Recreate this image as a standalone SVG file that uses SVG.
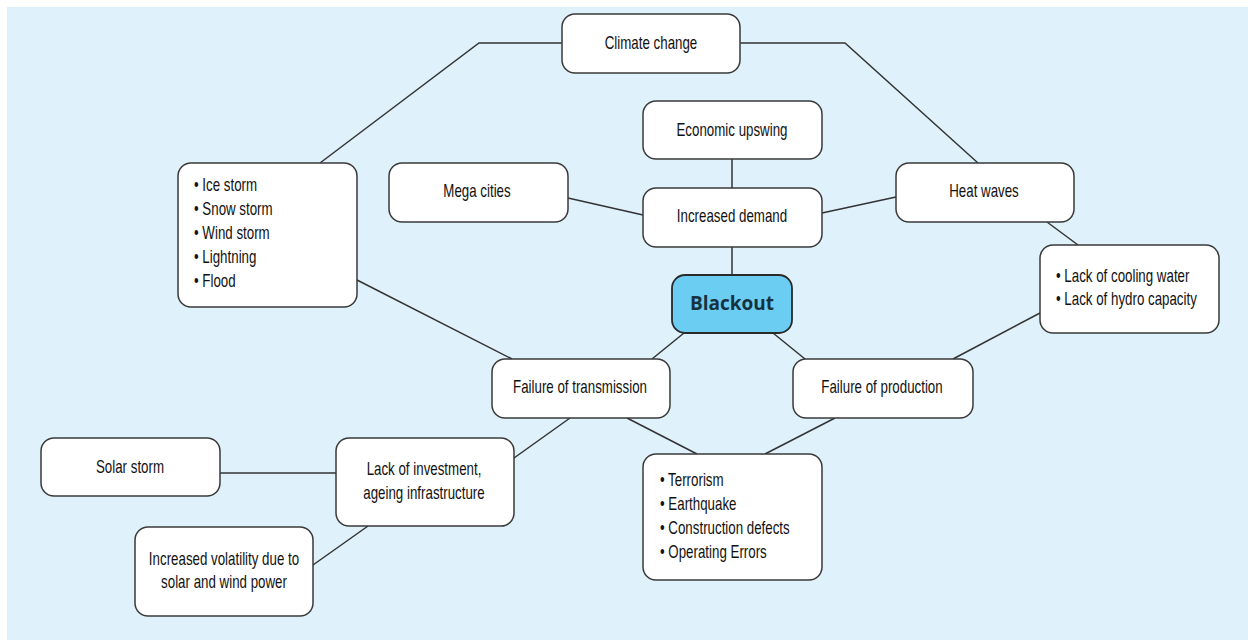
<svg xmlns="http://www.w3.org/2000/svg" width="1248" height="640" viewBox="0 0 1248 640">
<style>
.bg{fill:#dff1fb}
.box{fill:#ffffff;stroke:#3a3a3a;stroke-width:1.5}
.hub{fill:#6ccdf2;stroke:#2a2a2a;stroke-width:1.8}
.lbl{font-family:"Liberation Sans",Arial,sans-serif;font-size:18px;fill:#111}
.c{text-anchor:middle}
.hubt{font-family:"Open Sans","Noto Sans",sans-serif;font-weight:bold;font-size:19px;fill:#16323f;text-anchor:middle}
.con{fill:none;stroke:#333;stroke-width:1.5}
</style>
<rect class="bg" x="7" y="7" width="1241" height="633"/>
<g id="connectors">
<polyline class="con" points="562,43 479,43 320,163"/>
<polyline class="con" points="740,43 845,43 978,163"/>
<line class="con" x1="732" y1="159" x2="732" y2="188"/>
<line class="con" x1="732" y1="247" x2="732" y2="275"/>
<line class="con" x1="568" y1="198" x2="643" y2="215"/>
<line class="con" x1="822" y1="213" x2="896" y2="197"/>
<line class="con" x1="1047" y1="222" x2="1078" y2="245"/>
<line class="con" x1="1040" y1="313" x2="953" y2="359"/>
<line class="con" x1="684" y1="333" x2="652" y2="359"/>
<line class="con" x1="773" y1="333" x2="805" y2="359"/>
<line class="con" x1="357" y1="280" x2="512" y2="359"/>
<line class="con" x1="570" y1="418" x2="514" y2="458"/>
<line class="con" x1="627" y1="418" x2="697" y2="454"/>
<line class="con" x1="835" y1="418" x2="765" y2="454"/>
<line class="con" x1="220" y1="473" x2="336" y2="473"/>
<line class="con" x1="368" y1="526" x2="313" y2="565"/>
</g>
<g id="climate-change"><rect class="box" x="562" y="14" width="178" height="59" rx="13"/><text class="lbl c" x="651" y="49" transform="matrix(0.74 0 0 1 169.26 0)">Climate change</text></g>
<g id="economic-upswing"><rect class="box" x="643" y="101" width="179" height="58" rx="13"/><text class="lbl c" x="732" y="136" transform="matrix(0.74 0 0 1 190.32 0)">Economic upswing</text></g>
<g id="mega-cities"><rect class="box" x="389" y="163" width="179" height="59" rx="13"/><text class="lbl c" x="477" y="197" transform="matrix(0.74 0 0 1 124.02 0)">Mega cities</text></g>
<g id="increased-demand"><rect class="box" x="643" y="188" width="179" height="59" rx="13"/><text class="lbl c" x="732" y="222" transform="matrix(0.74 0 0 1 190.32 0)">Increased demand</text></g>
<g id="blackout"><rect class="hub" x="672" y="275" width="120" height="58" rx="13"/><text class="hubt" x="732" y="310">Blackout</text></g>
<g id="heat-waves"><rect class="box" x="896" y="163" width="178" height="59" rx="13"/><text class="lbl c" x="984" y="197" transform="matrix(0.74 0 0 1 255.84 0)">Heat waves</text></g>
<g id="water-hydro"><rect class="box" x="1040" y="245" width="179" height="88" rx="13"/>
<text class="lbl" x="1056" y="282" transform="matrix(0.74 0 0 1 274.56 0)">• Lack of cooling water</text>
<text class="lbl" x="1056" y="305" transform="matrix(0.74 0 0 1 274.56 0)">• Lack of hydro capacity</text></g>
<g id="storms"><rect class="box" x="178" y="163" width="179" height="144" rx="13"/>
<text class="lbl" x="194" y="191" transform="matrix(0.74 0 0 1 50.44 0)">• Ice storm</text>
<text class="lbl" x="194" y="215" transform="matrix(0.74 0 0 1 50.44 0)">• Snow storm</text>
<text class="lbl" x="194" y="239" transform="matrix(0.74 0 0 1 50.44 0)">• Wind storm</text>
<text class="lbl" x="194" y="263" transform="matrix(0.74 0 0 1 50.44 0)">• Lightning</text>
<text class="lbl" x="194" y="287" transform="matrix(0.74 0 0 1 50.44 0)">• Flood</text></g>
<g id="failure-transmission"><rect class="box" x="492" y="359" width="178" height="59" rx="13"/><text class="lbl c" x="580" y="393" transform="matrix(0.74 0 0 1 150.8 0)">Failure of transmission</text></g>
<g id="failure-production"><rect class="box" x="793" y="359" width="180" height="59" rx="13"/><text class="lbl c" x="882" y="393" transform="matrix(0.74 0 0 1 229.32 0)">Failure of production</text></g>
<g id="hazards"><rect class="box" x="643" y="454" width="179" height="126" rx="13"/>
<text class="lbl" x="660" y="486" transform="matrix(0.74 0 0 1 171.6 0)">• Terrorism</text>
<text class="lbl" x="660" y="510" transform="matrix(0.74 0 0 1 171.6 0)">• Earthquake</text>
<text class="lbl" x="660" y="534" transform="matrix(0.74 0 0 1 171.6 0)">• Construction defects</text>
<text class="lbl" x="660" y="558" transform="matrix(0.74 0 0 1 171.6 0)">• Operating Errors</text></g>
<g id="lack-investment"><rect class="box" x="336" y="438" width="178" height="88" rx="13"/>
<text class="lbl c" x="424" y="475" transform="matrix(0.74 0 0 1 110.24 0)">Lack of investment,</text>
<text class="lbl c" x="424" y="499" transform="matrix(0.74 0 0 1 110.24 0)">ageing infrastructure</text></g>
<g id="solar-storm"><rect class="box" x="41" y="438" width="179" height="58" rx="13"/><text class="lbl c" x="130" y="473" transform="matrix(0.74 0 0 1 33.8 0)">Solar storm</text></g>
<g id="volatility"><rect class="box" x="135" y="527" width="178" height="89" rx="13"/>
<text class="lbl c" x="224" y="565" transform="matrix(0.74 0 0 1 58.24 0)">Increased volatility due to</text>
<text class="lbl c" x="224" y="588" transform="matrix(0.74 0 0 1 58.24 0)">solar and wind power</text></g>
</svg>
